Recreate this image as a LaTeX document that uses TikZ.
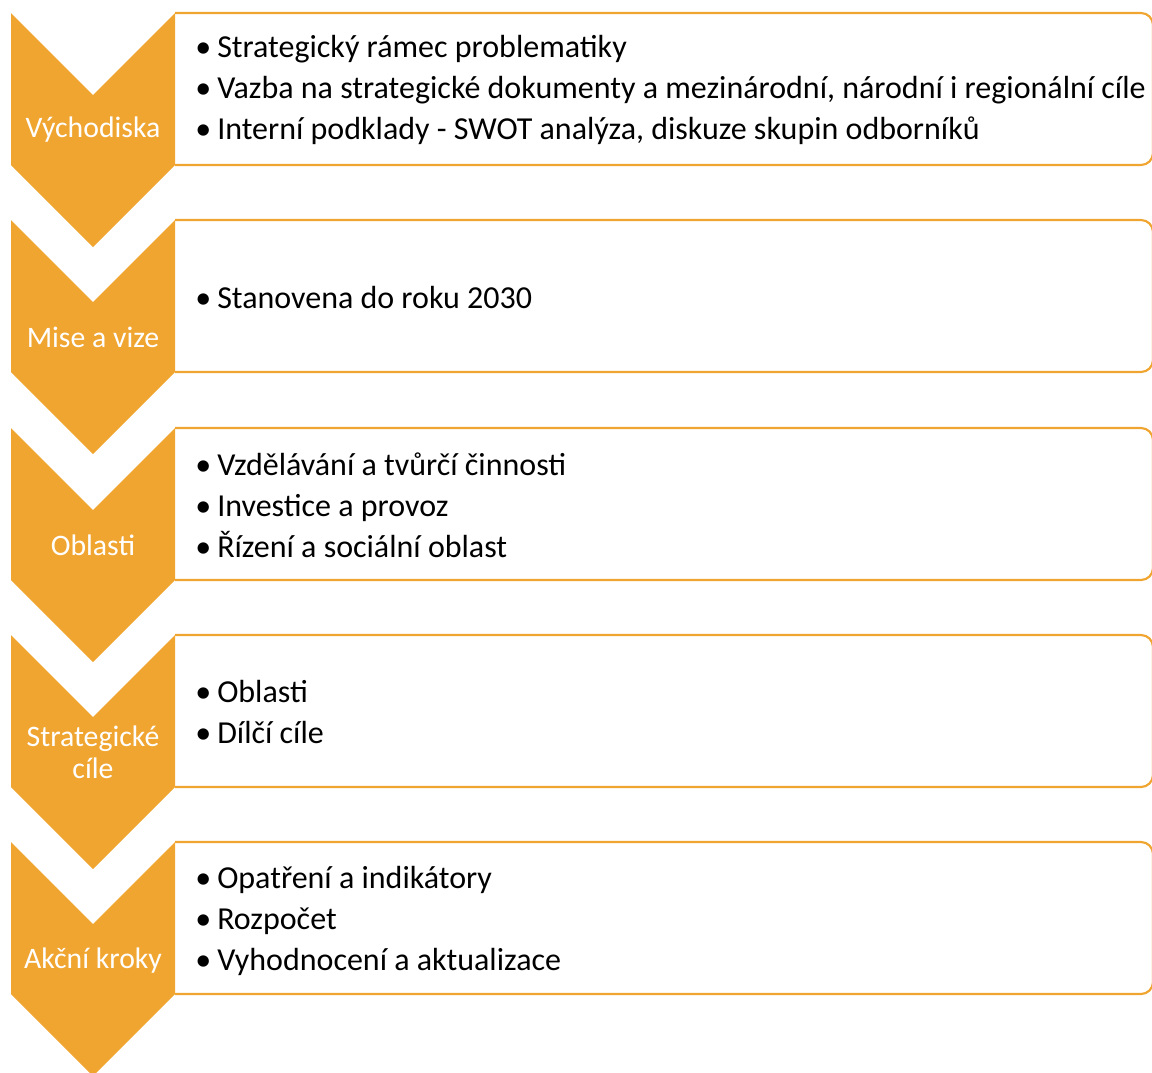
\documentclass[tikz,border=0pt]{standalone}
\usepackage{fontspec}
\setmainfont{Carlito}
\usetikzlibrary{positioning}
\definecolor{stageorange}{RGB}{240,165,48}
\newcommand{\itm}{\makebox[16.5pt][l]{•}}

\begin{document}
\begin{tikzpicture}[x=0.75pt,y=-0.75pt,
    chevron/.style={fill=stageorange},
    stagebox/.style={draw=stageorange,line width=1.6pt,rounded corners=9pt},
    stagelabel/.style={text=white,font=\fontsize{22.3}{24}\selectfont,align=center,inner sep=0pt},
    itemlist/.style={anchor=west,align=left,inner sep=0pt,font=\fontsize{24}{30.75}\selectfont}]
    \useasboundingbox (0,0) rectangle (1152,1072);

    % boxes, open on the chevron side
    \draw[stagebox] (175,13) -- (1153,13) -- (1153,165) -- (175,165);
    \draw[stagebox] (175,220) -- (1153,220) -- (1153,372) -- (175,372);
    \draw[stagebox] (175,428) -- (1153,428) -- (1153,580) -- (175,580);
    \draw[stagebox] (175,635) -- (1153,635) -- (1153,787) -- (175,787);
    \draw[stagebox] (175,842) -- (1153,842) -- (1153,994) -- (175,994);

    % chevrons
    \fill[chevron] (11,13) -- (93,95) -- (175,13) -- (175,165) -- (93,247) -- (11,165) -- cycle;
    \fill[chevron] (11,220) -- (93,302) -- (175,220) -- (175,372) -- (93,454) -- (11,372) -- cycle;
    \fill[chevron] (11,428) -- (93,510) -- (175,428) -- (175,580) -- (93,662) -- (11,580) -- cycle;
    \fill[chevron] (11,635) -- (93,717) -- (175,635) -- (175,787) -- (93,869) -- (11,787) -- cycle;
    \fill[chevron] (11,842) -- (93,924) -- (175,842) -- (175,994) -- (93,1076) -- (11,994) -- cycle;

    \node[stagelabel] (vychodiska) at (93,130) {Východiska};
    \node[stagelabel] (mise) at (93,337) {Mise a vize};
    \node[stagelabel] (oblasti) at (93,545) {Oblasti};
    \node[stagelabel] (cile) at (93,752) {Strategické\\cíle};
    \node[stagelabel] (kroky) at (93,961) {Akční kroky};

    \node[itemlist] (vychodiskaList) at (195,90) {\itm Strategický rámec problematiky\\\itm Vazba na strategické dokumenty a mezinárodní, národní i regionální cíle\\\itm Interní podklady - SWOT analýza, diskuze skupin odborníků};
    \node[itemlist] (miseList) at (195,297) {\itm Stanovena do roku 2030};
    \node[itemlist] (oblastiList) at (195,505) {\itm Vzdělávání a tvůrčí činnosti\\\itm Investice a provoz\\\itm Řízení a sociální oblast};
    \node[itemlist] (cileList) at (195,712) {\itm Oblasti\\\itm Dílčí cíle};
    \node[itemlist] (krokyList) at (195,921) {\itm Opatření a indikátory\\\itm Rozpočet\\\itm Vyhodnocení a aktualizace};

  \end{tikzpicture}
\end{document}
